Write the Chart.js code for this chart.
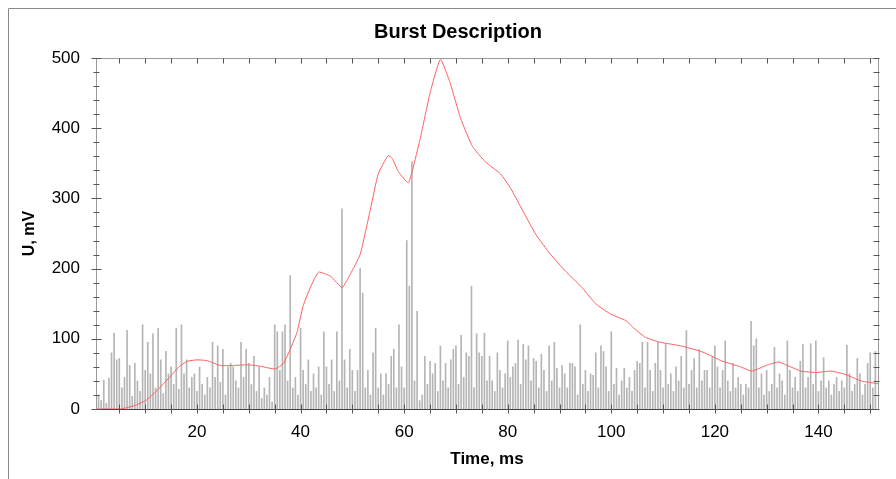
<!DOCTYPE html>
<html>
<head>
<meta charset="utf-8">
<title>Burst Description</title>
<script src="https://cdn.jsdelivr.net/npm/chart.js@4.4.1/dist/chart.umd.min.js"></script>
<style>
  html, body { margin: 0; padding: 0; background: #fff; }
  #wrap { width: 896px; height: 479px; }
</style>
</head>
<body>
<div id="wrap"><canvas id="burstChart" width="896" height="479"></canvas></div>
<script>
const chartTitle = 'Burst Description';
const xTitle = 'Time, ms';
const yTitle = 'U, mV';
const xTickLabels = [20, 40, 60, 80, 100, 120, 140];
const yTickLabels = [0, 100, 200, 300, 400, 500];

// raw signal, one value every 0.5 ms starting at 1 ms
const signalStart = 1;
const signalStep = 0.5;
const signalValues = [
    20, 12, 41, 8, 44, 80, 108, 70, 72, 30, 45, 112, 62, 18, 65, 40, 25, 120, 55, 95,
    50, 107, 30, 115, 70, 22, 82, 50, 60, 35, 115, 28, 120, 50, 70, 30, 45, 50, 25, 60,
    35, 20, 45, 30, 95, 45, 90, 38, 85, 20, 60, 65, 60, 40, 30, 95, 45, 85, 65, 35,
    75, 25, 60, 15, 30, 20, 45, 10, 120, 110, 55, 110, 120, 40, 190, 30, 45, 20, 115, 55,
    35, 70, 25, 50, 30, 60, 20, 110, 60, 35, 70, 25, 110, 40, 285, 70, 30, 85, 55, 25,
    55, 200, 165, 30, 55, 20, 80, 115, 30, 50, 20, 50, 35, 75, 85, 30, 120, 60, 30, 240,
    175,
    352, 40, 139, 12, 20, 75, 35, 68, 50, 65, 25, 90, 40, 65, 30, 70, 85, 90, 35, 105,
    45, 80, 75, 175, 30, 107, 80, 75, 108, 40, 75, 40, 25, 80, 55, 30, 50, 97, 45, 60,
    65, 98, 35, 92, 70, 90, 40, 72, 68, 30, 78, 55, 25, 90, 40, 95, 58, 30, 62, 50,
    30, 65, 65, 60, 20, 120, 35, 55, 25, 50, 48, 80, 30, 90, 82, 60, 25, 110, 35, 58,
    20, 40, 58, 30, 45, 25, 55, 68, 65, 95, 30, 95, 55, 25, 65, 95, 55, 30, 93, 35,
    50, 25, 60, 40, 75, 30, 112, 35, 55, 72, 30, 85, 40, 55, 55, 30, 75, 90, 60, 30,
    55,
    97, 40, 25, 65, 30, 45, 35, 20, 35, 30, 125, 90, 100, 30, 50, 20, 55, 25, 35, 88,
    30, 50, 40, 20, 97, 55, 30, 45, 25, 68, 92, 30, 45, 93, 35, 97, 25, 40, 73, 30,
    40, 20, 35, 45, 25, 40, 30, 91, 50, 25, 35, 72, 50, 20, 35, 65, 80, 30, 82
];

// smoothed envelope (red curve)
const envelopeTime = [
    0.5, 5.2, 8, 10.3, 12.5, 14.8, 16.5, 18.1, 20, 21.9, 24.5, 27, 29.7, 32.2, 35.1,
    36.7, 38, 39.3, 40.5, 42, 43.5, 45.8, 48, 49.6, 51.5, 53.5, 55, 56.9, 57.7, 58.9,
    60.8, 61.6, 63.1, 65, 67, 68.9, 70.9, 73.2, 75.7, 78.6, 80.6, 82.5, 85.4, 88.3, 91.2,
    94.1, 97, 99.9, 102.8, 104.1, 106.6, 109.5, 113.4, 117.3, 119.2, 121.1, 125, 127, 128,
    129.9, 132.3, 133.7, 136.6, 139.5, 142.4, 145.3, 148.2, 151.5
];
const envelopeValues = [
    0, 0, 5, 13, 28, 46, 60, 68, 70, 69, 62, 62, 63, 61, 57,
    65, 85, 109, 147, 175, 195, 189, 173, 192, 220, 285, 335, 361, 357, 338,
    322, 340, 385, 450, 498, 464, 414, 374, 352, 335, 314, 288, 249, 220, 196,
    175, 150, 135, 126, 117, 102, 95, 90, 82, 76, 69, 60, 54, 56,
    62, 67, 63, 54, 52, 54, 49, 40, 36
];

const fontFamily = 'Arial, "Liberation Sans", sans-serif';

// title, outer frame, plot box and inward ticks
const framePlugin = {
    id: 'frame',
    afterDraw(chart) {
        const ctx = chart.ctx;
        const a = chart.chartArea;
        const x = chart.scales.x;
        const y = chart.scales.y;
        const L = Math.round(a.left) + 0.5, R = Math.round(a.right) + 0.5;
        const T = Math.round(a.top) + 0.5, B = Math.round(a.bottom) + 0.5;
        ctx.save();
        ctx.lineWidth = 1;

        // outer frame (only top and left visible)
        ctx.strokeStyle = '#8a8a8a';
        ctx.beginPath();
        ctx.moveTo(8.5, 479);
        ctx.lineTo(8.5, 8.5);
        ctx.lineTo(896, 8.5);
        ctx.stroke();

        // plot box
        ctx.strokeStyle = '#9a9a9a';
        ctx.beginPath();
        ctx.moveTo(L, B); ctx.lineTo(L, T); ctx.lineTo(R, T); ctx.lineTo(R, B);
        ctx.stroke();
        ctx.strokeStyle = '#444';
        ctx.beginPath();
        ctx.moveTo(L, B); ctx.lineTo(R, B);
        ctx.stroke();

        // ticks
        ctx.strokeStyle = '#555';
        ctx.beginPath();
        for (let t = 5; t <= 150; t += 5) {
            const px = Math.round(x.getPixelForValue(t)) + 0.5;
            ctx.moveTo(px, B - 5); ctx.lineTo(px, B + 4);
            ctx.moveTo(px, T); ctx.lineTo(px, T + 5);
        }
        for (let v = 0; v <= 500; v += 20) {
            const py = Math.round(y.getPixelForValue(v)) + 0.5;
            const len = v % 100 === 0 ? 5 : 3;
            ctx.moveTo(L - len, py); ctx.lineTo(L + len, py);
            ctx.moveTo(R - 5, py); ctx.lineTo(R + 1, py);
        }
        ctx.stroke();

        // chart title
        ctx.fillStyle = '#000';
        ctx.font = 'bold 20px ' + fontFamily;
        ctx.textAlign = 'center';
        ctx.textBaseline = 'middle';
        ctx.fillText(chartTitle, 458, 32);
        ctx.restore();
    }
};

const signalPoints = signalValues.map((v, i) => ({ x: signalStart + i * signalStep, y: v }));
const envelopePoints = envelopeTime.map((t, i) => ({ x: t, y: envelopeValues[i] }));

new Chart(document.getElementById('burstChart'), {
    type: 'bar',
    data: {
        datasets: [
            {
                type: 'line',
                label: 'Envelope',
                data: envelopePoints,
                borderColor: 'rgb(255, 95, 95)',
                borderWidth: 1,
                pointRadius: 0,
                tension: 0.15,
                fill: false,
                order: 0
            },
            {
                type: 'bar',
                label: 'Signal',
                data: signalPoints,
                backgroundColor: 'rgba(120, 120, 120, 0.55)',
                barThickness: 1,
                borderWidth: 0,
                order: 1
            }
        ]
    },
    options: {
        responsive: false,
        animation: false,
        devicePixelRatio: 1,
        layout: { padding: { top: 58, right: 18, left: 0, bottom: 0 } },
        plugins: {
            legend: { display: false },
            tooltip: { enabled: false },
            title: { display: false }
        },
        scales: {
            x: {
                type: 'linear',
                min: 0.5,
                max: 151.5,
                offset: false,
                grid: { display: false, drawTicks: false },
                border: { display: false },
                afterBuildTicks: (scale) => { scale.ticks = xTickLabels.map(v => ({ value: v })); },
                afterFit: (scale) => { scale.height = 70; },
                ticks: {
                    color: '#000',
                    padding: 13,
                    maxRotation: 0,
                    font: { family: fontFamily, size: 17 }
                },
                title: {
                    display: true,
                    text: xTitle,
                    color: '#000',
                    padding: { top: 0, bottom: 9 },
                    font: { family: fontFamily, size: 17, weight: 'bold' }
                }
            },
            y: {
                min: 0,
                max: 500,
                grid: { display: false, drawTicks: false },
                border: { display: false },
                afterBuildTicks: (scale) => { scale.ticks = yTickLabels.map(v => ({ value: v })); },
                afterFit: (scale) => { scale.width = 96; },
                ticks: {
                    color: '#000',
                    padding: 16,
                    font: { family: fontFamily, size: 17 }
                },
                title: {
                    display: true,
                    text: yTitle,
                    color: '#000',
                    padding: { top: 20, bottom: 0 },
                    font: { family: fontFamily, size: 16, weight: 'bold' }
                }
            }
        }
    },
    plugins: [framePlugin]
});
</script>
</body>
</html>
